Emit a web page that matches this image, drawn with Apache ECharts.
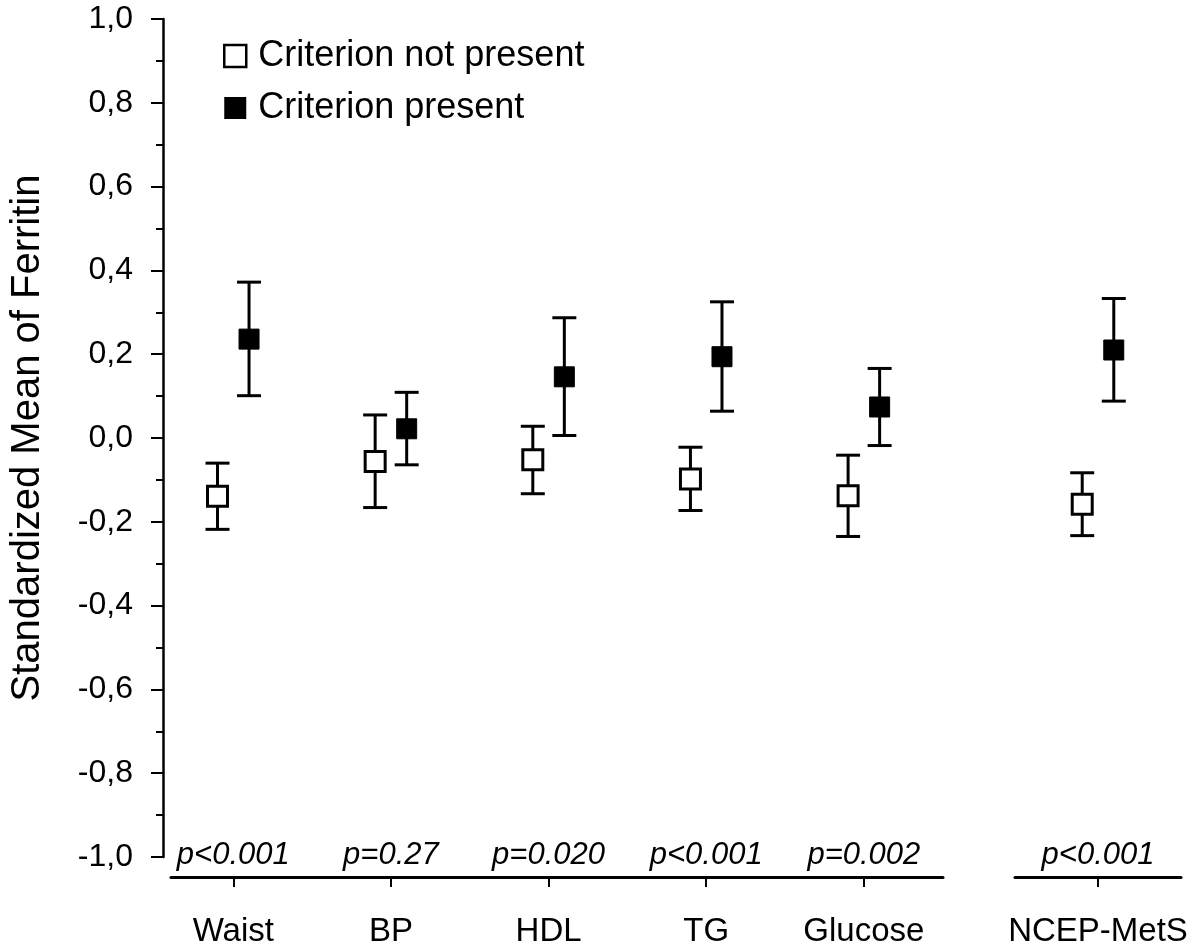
<!DOCTYPE html>
<html>
<head>
<meta charset="utf-8">
<script src="https://cdn.jsdelivr.net/npm/echarts@6/dist/echarts.min.js"></script>
<style>
html,body{margin:0;padding:0;background:#fff;}
#chart{width:1200px;height:948px;}
</style>
</head>
<body>
<div id="chart"></div>
<script>
// ---- data ----
var categories = ['Waist', 'BP', 'HDL', 'TG', 'Glucose', 'NCEP-MetS'];
var pValues = ['p<0.001', 'p=0.27', 'p=0.020', 'p<0.001', 'p=0.002', 'p<0.001'];
var absentMean = [-0.139, -0.056, -0.052, -0.098, -0.138, -0.158];
var absentLow  = [-0.218, -0.166, -0.133, -0.173, -0.235, -0.233];
var absentHigh = [-0.060,  0.055,  0.028, -0.022, -0.041, -0.083];
var presentMean = [0.236, 0.022, 0.146, 0.194, 0.074, 0.210];
var presentLow  = [0.101, -0.064, 0.006, 0.064, -0.018, 0.088];
var presentHigh = [0.372, 0.109, 0.287, 0.325, 0.166, 0.333];
var yTicks = [-1.0, -0.8, -0.6, -0.4, -0.2, 0.0, 0.2, 0.4, 0.6, 0.8, 1.0];
var seriesNames = ['Criterion not present', 'Criterion present'];
// panel membership: first five criteria share one axis, the combined MetS has its own
var panelA = [0, 1, 2, 3, 4];
var panelB = [5];

// ---- build ----
var FONT = "'Liberation Sans', Arial, Helvetica, sans-serif";
var OFF = 0.1;

function pts(idxs, mean, shift) {
  return idxs.map(function (ci, k) { return [k + shift, mean[ci]]; });
}
function bars(idxs, low, high, shift) {
  return idxs.map(function (ci, k) { return [k + shift, low[ci], high[ci]]; });
}
function renderBar(params, api) {
  var x = api.value(0);
  var lo = api.coord([x, api.value(1)]);
  var hi = api.coord([x, api.value(2)]);
  var hw = 12;
  var st = { stroke: '#000', lineWidth: 3, fill: null };
  return {
    type: 'group',
    children: [
      { type: 'line', shape: { x1: lo[0], y1: lo[1], x2: hi[0], y2: hi[1] }, style: st },
      { type: 'line', shape: { x1: lo[0] - hw, y1: lo[1], x2: lo[0] + hw, y2: lo[1] }, style: st },
      { type: 'line', shape: { x1: hi[0] - hw, y1: hi[1], x2: hi[0] + hw, y2: hi[1] }, style: st }
    ]
  };
}
function catAxis(gridIndex, idxs, min, max) {
  var vals = idxs.map(function (c, k) { return k; });
  return {
    type: 'value', gridIndex: gridIndex, min: min, max: max, position: 'bottom', offset: 20,
    axisLine: { show: true, onZero: false, lineStyle: { color: '#000', width: 3 } },
    axisTick: { show: true, customValues: vals, length: 10, lineStyle: { color: '#000', width: 2 } },
    axisLabel: {
      customValues: vals, margin: 38, color: '#000', fontSize: 33, fontFamily: FONT,
      formatter: function (v) { return categories[idxs[Math.round(v)]]; }
    },
    splitLine: { show: false }
  };
}
function pAxis(gridIndex, idxs, min, max) {
  var vals = idxs.map(function (c, k) { return k; });
  return {
    type: 'value', gridIndex: gridIndex, min: min, max: max, position: 'bottom', offset: 20,
    axisLine: { show: false, onZero: false },
    axisTick: { show: false },
    axisLabel: {
      inside: true, customValues: vals, margin: 6, color: '#000', fontSize: 31,
      fontStyle: 'italic', fontFamily: FONT,
      formatter: function (v) { return pValues[idxs[Math.round(v)]]; }
    },
    splitLine: { show: false }
  };
}
function openStyle() { return { color: '#fff', borderColor: '#000', borderWidth: 3, opacity: 1 }; }
function fillStyle() { return { color: '#000', borderColor: '#000', borderWidth: 1, opacity: 1 }; }

var panels = [
  { idxs: panelA, xCat: 0, yIdx: 0 },
  { idxs: panelB, xCat: 2, yIdx: 1 }
];
var series = [];
panels.forEach(function (p) {
  series.push({ type: 'custom', xAxisIndex: p.xCat, yAxisIndex: p.yIdx, z: 1, silent: true,
    renderItem: renderBar, data: bars(p.idxs, absentLow, absentHigh, -OFF) });
  series.push({ type: 'custom', xAxisIndex: p.xCat, yAxisIndex: p.yIdx, z: 1, silent: true,
    renderItem: renderBar, data: bars(p.idxs, presentLow, presentHigh, OFF) });
  series.push({ name: seriesNames[0], type: 'scatter', xAxisIndex: p.xCat, yAxisIndex: p.yIdx, z: 5,
    symbol: 'rect', symbolSize: 20, itemStyle: openStyle(), emphasis: { disabled: true },
    data: pts(p.idxs, absentMean, -OFF) });
  series.push({ name: seriesNames[1], type: 'scatter', xAxisIndex: p.xCat, yAxisIndex: p.yIdx, z: 5,
    symbol: 'rect', symbolSize: 20, itemStyle: fillStyle(), emphasis: { disabled: true },
    data: pts(p.idxs, presentMean, OFF) });
});

var option = {
  backgroundColor: '#fff',
  animation: false,
  textStyle: { fontFamily: FONT, color: '#000' },
  legend: {
    orient: 'vertical', left: 218, top: 33, itemWidth: 22, itemHeight: 22, itemGap: 16,
    textStyle: { fontSize: 36, color: '#000', fontFamily: FONT, padding: [0, 0, 0, 7] },
    data: [
      { name: seriesNames[0], icon: 'rect', itemStyle: { color: '#fff', borderColor: '#000', borderWidth: 2.5, opacity: 1 } },
      { name: seriesNames[1], icon: 'rect', itemStyle: { color: '#000', borderColor: '#000', borderWidth: 0, opacity: 1 } }
    ],
    selectedMode: false
  },
  grid: [
    { left: 170, right: 257, top: 19, bottom: 91 },
    { left: 1015, right: 19, top: 19, bottom: 91 }
  ],
  xAxis: [
    catAxis(0, panelA, -0.395, 4.502),
    pAxis(0, panelA, -0.395, 4.502),
    catAxis(1, panelB, -0.526, 0.526),
    pAxis(1, panelB, -0.526, 0.526)
  ],
  yAxis: [
    {
      type: 'value', gridIndex: 0, min: yTicks[0], max: yTicks[yTicks.length - 1], interval: 0.2,
      position: 'left', offset: 8,
      name: 'Standardized Mean of Ferritin', nameLocation: 'middle', nameGap: 115,
      nameTextStyle: { fontSize: 40, color: '#000', fontFamily: FONT },
      axisLine: { show: true, onZero: false, lineStyle: { color: '#000', width: 2.5 } },
      axisTick: { show: true, length: 12, lineStyle: { color: '#000', width: 2 } },
      minorTick: { show: true, splitNumber: 2, length: 7, lineStyle: { color: '#000', width: 2 } },
      axisLabel: {
        margin: 30, color: '#000', fontSize: 32, fontFamily: FONT,
        formatter: function (v) { return v.toFixed(1).replace('.', ','); }
      },
      splitLine: { show: false }
    },
    { type: 'value', gridIndex: 1, min: yTicks[0], max: yTicks[yTicks.length - 1], show: false }
  ],
  series: series
};

var chart = echarts.init(document.getElementById('chart'));
chart.setOption(option);
</script>
</body>
</html>
